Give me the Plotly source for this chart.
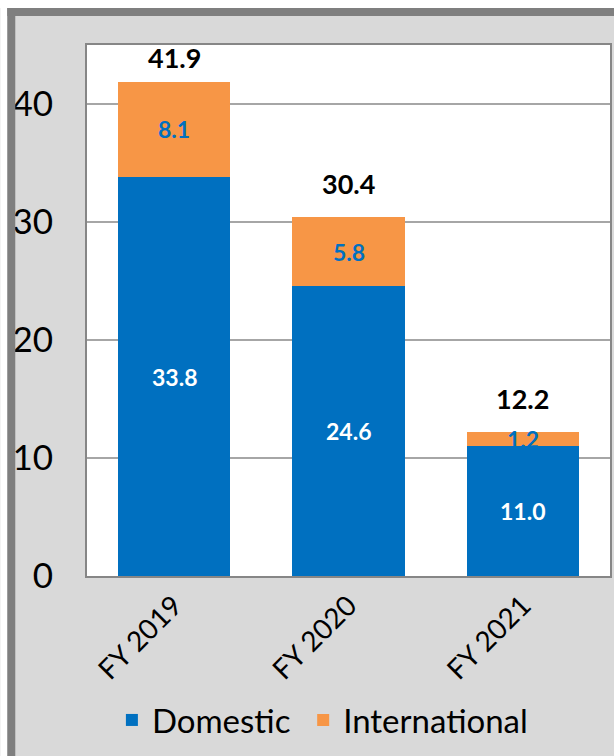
import plotly.graph_objects as go

# Passenger traffic by fiscal year (millions)
years = ["FY 2019", "FY 2020", "FY 2021"]
domestic = [33.8, 24.6, 11.0]
international = [8.1, 5.8, 1.2]
totals = [41.9, 30.4, 12.2]
y_ticks = [0, 10, 20, 30, 40]

BLUE = "#0070c0"
ORANGE = "#f79646"
FONT = "Lato"
Y_MAX = 45
PLOT_L, PLOT_W = 87, 525          # plot-area left edge / width in px
PLOT_T, PLOT_H = 45, 531          # plot-area top edge / height in px
PX_PER_UNIT = PLOT_H / Y_MAX

fig = go.Figure()
fig.add_trace(go.Bar(x=years, y=domestic, name="Domestic", legend="legend",
                     marker=dict(color=BLUE, line=dict(width=0))))
fig.add_trace(go.Bar(x=years, y=international, name="International", legend="legend2",
                     marker=dict(color=ORANGE, line=dict(width=0))))

annotations = []
for yr, d, i, t in zip(years, domestic, international, totals):
    # segment values, centred in each stacked piece
    annotations.append(dict(x=yr, y=d / 2, text=f"<b>{d:.1f}</b>", showarrow=False,
                            font=dict(family=FONT, size=23, color="white")))
    annotations.append(dict(x=yr, y=d + i / 2, text=f"<b>{i:.1f}</b>", showarrow=False,
                            font=dict(family=FONT, size=23, color=BLUE)))
    # stack total above each bar, kept inside the plot frame
    label_y = min(t + 34 / PX_PER_UNIT, Y_MAX - 12 / PX_PER_UNIT)
    annotations.append(dict(x=yr, y=label_y, text=f"<b>{t:.1f}</b>", showarrow=False,
                            yanchor="middle",
                            font=dict(family=FONT, size=27, color="black")))


def px_x(px):
    return (px - PLOT_L) / PLOT_W


def px_y(py):
    return 1 - (py - PLOT_T) / PLOT_H


# outer frame: dark band along the top and left edges
shapes = [
    dict(type="rect", xref="paper", yref="paper", layer="above",
         x0=px_x(0), x1=px_x(7), y0=-2, y1=2, fillcolor="white", line=dict(width=0)),
    dict(type="rect", xref="paper", yref="paper", layer="above",
         x0=-1, x1=2, y0=px_y(8), y1=2, fillcolor="white", line=dict(width=0)),
    dict(type="rect", xref="paper", yref="paper", layer="above",
         x0=px_x(7), x1=px_x(15), y0=-2, y1=px_y(8), fillcolor="#7f7f7f", line=dict(width=0)),
    dict(type="rect", xref="paper", yref="paper", layer="above",
         x0=px_x(7), x1=2, y0=px_y(16), y1=px_y(8), fillcolor="#7f7f7f", line=dict(width=0)),
]

legend_style = dict(orientation="h", xanchor="left", y=px_y(720), yanchor="middle",
                    font=dict(family=FONT, size=33, color="black"),
                    bgcolor="rgba(0,0,0,0)")

fig.update_layout(
    width=614, height=756,
    barmode="stack", bargap=0.354,
    paper_bgcolor="#d9d9d9", plot_bgcolor="white",
    margin=dict(l=PLOT_L, r=2, t=PLOT_T, b=180, pad=0),
    font=dict(family=FONT, color="black"),
    annotations=annotations,
    shapes=shapes,
    showlegend=True,
    legend=dict(x=px_x(112), **legend_style),
    legend2=dict(x=px_x(304), **legend_style),
    xaxis=dict(showline=True, linecolor="#868686", linewidth=2, mirror=True,
               tickangle=-45, tickfont=dict(family=FONT, size=28, color="black"),
               ticks="", showgrid=False),
    yaxis=dict(range=[0, Y_MAX], tickvals=y_ticks, showline=True, linecolor="#868686",
               linewidth=2, mirror=True, showgrid=True, gridcolor="#a6a6a6", gridwidth=2,
               zeroline=False, ticks="", ticklabelstandoff=25,
               tickfont=dict(family=FONT, size=35, color="black")),
)

fig.write_html("out.html")
